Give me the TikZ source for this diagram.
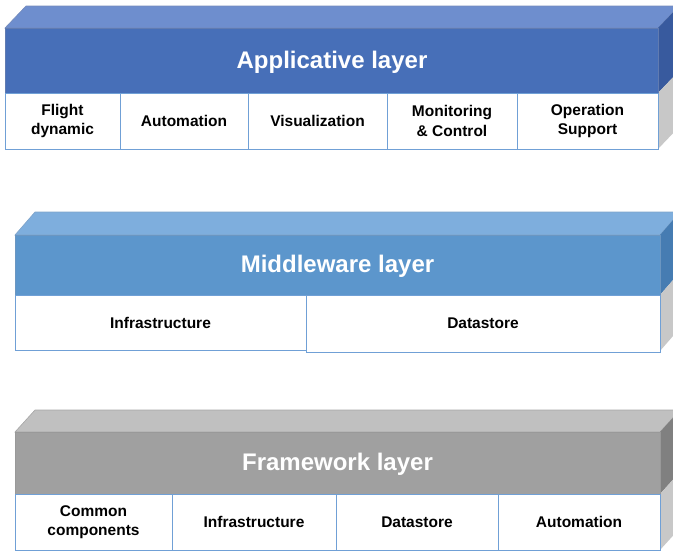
\documentclass[tikz,border=0pt]{standalone}
\usepackage{fontspec}
\setmainfont{Liberation Sans}
\begin{document}
\begin{tikzpicture}[x=1pt,y=-1pt,
  title/.style={font=\fontsize{24}{27}\selectfont\bfseries, text=white},
  cell/.style={draw=cellEdge, line width=1pt, fill=white, inner sep=0pt,
               align=center, font=\fontsize{15.5}{19.5}\selectfont\bfseries},
]
\definecolor{appFront}{RGB}{71,111,184}
\definecolor{appTop}{RGB}{110,142,206}
\definecolor{appSide}{RGB}{56,90,158}
\definecolor{midFront}{RGB}{92,150,204}
\definecolor{midTop}{RGB}{126,174,221}
\definecolor{midSide}{RGB}{70,124,178}
\definecolor{fwFront}{RGB}{160,160,160}
\definecolor{fwTop}{RGB}{192,192,192}
\definecolor{fwSide}{RGB}{128,128,128}
\definecolor{cellSide}{RGB}{200,200,200}
\definecolor{cellEdge}{RGB}{112,160,214}

\useasboundingbox (0,0) rectangle (673,552);

% ---------- Applicative layer ----------
\def\dx{21}\def\dy{-22}
\fill[appTop, draw=appSide!70, line width=0.6pt] (5,28) -- ++(\dx,\dy) -- (658+\dx,28+\dy) -- (658,28) -- cycle;
\fill[appSide] (658,28) -- ++(\dx,\dy) -- (658+\dx,93+\dy) -- (658,93) -- cycle;
\fill[cellSide] (658,93) -- ++(\dx,\dy) -- (658+\dx,149+\dy) -- (658,149) -- cycle;
\fill[appFront, draw=appSide!80, line width=0.6pt] (5,28) rectangle (658,93);
\node[title] (appT) at (332,62) {Applicative layer};
\node[cell, minimum width=115pt, minimum height=56pt] (a1) at (62.5,121) {Flight\\dynamic};
\node[cell, minimum width=128pt, minimum height=56pt] (a2) at (184,121) {Automation};
\node[cell, minimum width=139pt, minimum height=56pt] (a3) at (317.5,121) {Visualization};
\node[cell, minimum width=130pt, minimum height=56pt] (a4) at (452,121) {Monitoring\\\& Control};
\node[cell, minimum width=141pt, minimum height=56pt] (a5) at (587.5,121) {Operation\\Support};

% ---------- Middleware layer ----------
\def\dx{20}\def\dy{-23}
\fill[midTop, draw=midSide!70, line width=0.6pt] (15,235) -- ++(\dx,\dy) -- (660+\dx,235+\dy) -- (660,235) -- cycle;
\fill[midSide] (660,235) -- ++(\dx,\dy) -- (660+\dx,295+\dy) -- (660,295) -- cycle;
\fill[cellSide] (660,295) -- ++(\dx,\dy) -- (660+\dx,351+\dy) -- (660,351) -- cycle;
\fill[midFront, draw=midSide!80, line width=0.6pt] (15,235) rectangle (660,295);
\node[title] (midT) at (337.5,266) {Middleware layer};
\node[cell, minimum width=291pt, minimum height=55pt] (m1) at (160.5,322.5) {Infrastructure};
\node[cell, minimum width=354pt, minimum height=57pt] (m2) at (483,323.5) {Datastore};

% ---------- Framework layer ----------
\def\dx{20}\def\dy{-22}
\fill[fwTop, draw=fwSide!70, line width=0.6pt] (15,432) -- ++(\dx,\dy) -- (660+\dx,432+\dy) -- (660,432) -- cycle;
\fill[fwSide] (660,432) -- ++(\dx,\dy) -- (660+\dx,494+\dy) -- (660,494) -- cycle;
\fill[cellSide] (660,494) -- ++(\dx,\dy) -- (660+\dx,550+\dy) -- (660,550) -- cycle;
\fill[fwFront, draw=fwSide!80, line width=0.6pt] (15,432) rectangle (660,494);
\node[title] (fwT) at (337.5,464) {Framework layer};
\node[cell, minimum width=157pt, minimum height=56pt] (f1) at (93.5,522) {Common\\components};
\node[cell, minimum width=164pt, minimum height=56pt] (f2) at (254,522) {Infrastructure};
\node[cell, minimum width=162pt, minimum height=56pt] (f3) at (417,522) {Datastore};
\node[cell, minimum width=162pt, minimum height=56pt] (f4) at (579,522) {Automation};
\end{tikzpicture}
\end{document}
